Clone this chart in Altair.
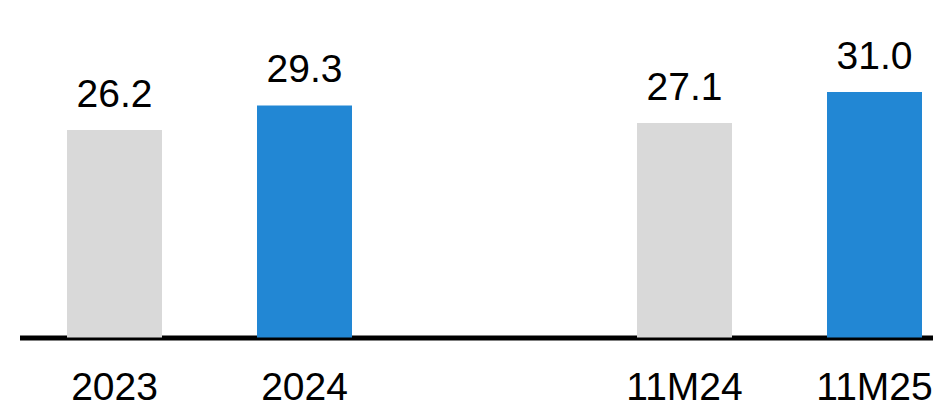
import altair as alt
import pandas as pd

categories = ["2023", "2024", "11M24", "11M25"]
values = [26.2, 29.3, 27.1, 31.0]
kinds = ["prior", "current", "prior", "current"]
x_domain = ["2023", "2024", " ", "11M24", "11M25"]

df = pd.DataFrame({"cat": categories, "value": values, "kind": kinds,
                   "label": [f"{v:.1f}" for v in values]})

FONT = "Liberation Sans"

x_scale = alt.Scale(domain=x_domain, paddingInner=0.5, paddingOuter=0.15395,
                    align=0.812, round=False)

x_enc = alt.X("cat:N", scale=x_scale,
              axis=alt.Axis(title=None, ticks=False, domainColor="black",
                            domainWidth=5, labelFontSize=39, labelFont=FONT,
                            labelColor="black", labelPadding=62,
                            labelBaseline="alphabetic", labelAngle=0))
y_enc = alt.Y("value:Q", scale=alt.Scale(domain=[0, 41.36], nice=False, zero=True),
              axis=None)

bars = alt.Chart(df).mark_bar().encode(
    x=x_enc, y=y_enc,
    color=alt.Color("kind:N", scale=alt.Scale(domain=["prior", "current"],
                                              range=["#D9D9D9", "#2287D4"]),
                    legend=None),
)
text = alt.Chart(df).mark_text(baseline="alphabetic", dy=-23, fontSize=39,
                               font=FONT, color="black").encode(
    x=alt.X("cat:N", scale=x_scale), y="value:Q", text="label:N")

chart = alt.layer(bars, text).properties(
    width=913.5, height=327.5,
    autosize=alt.AutoSizeParams(type="none"),
    padding={"left": 11.5, "top": 2, "right": 0, "bottom": 63},
).configure(background="white").configure_view(stroke=None, strokeWidth=0)

chart.save("out.html", embed_options={"renderer": "svg", "actions": False})
